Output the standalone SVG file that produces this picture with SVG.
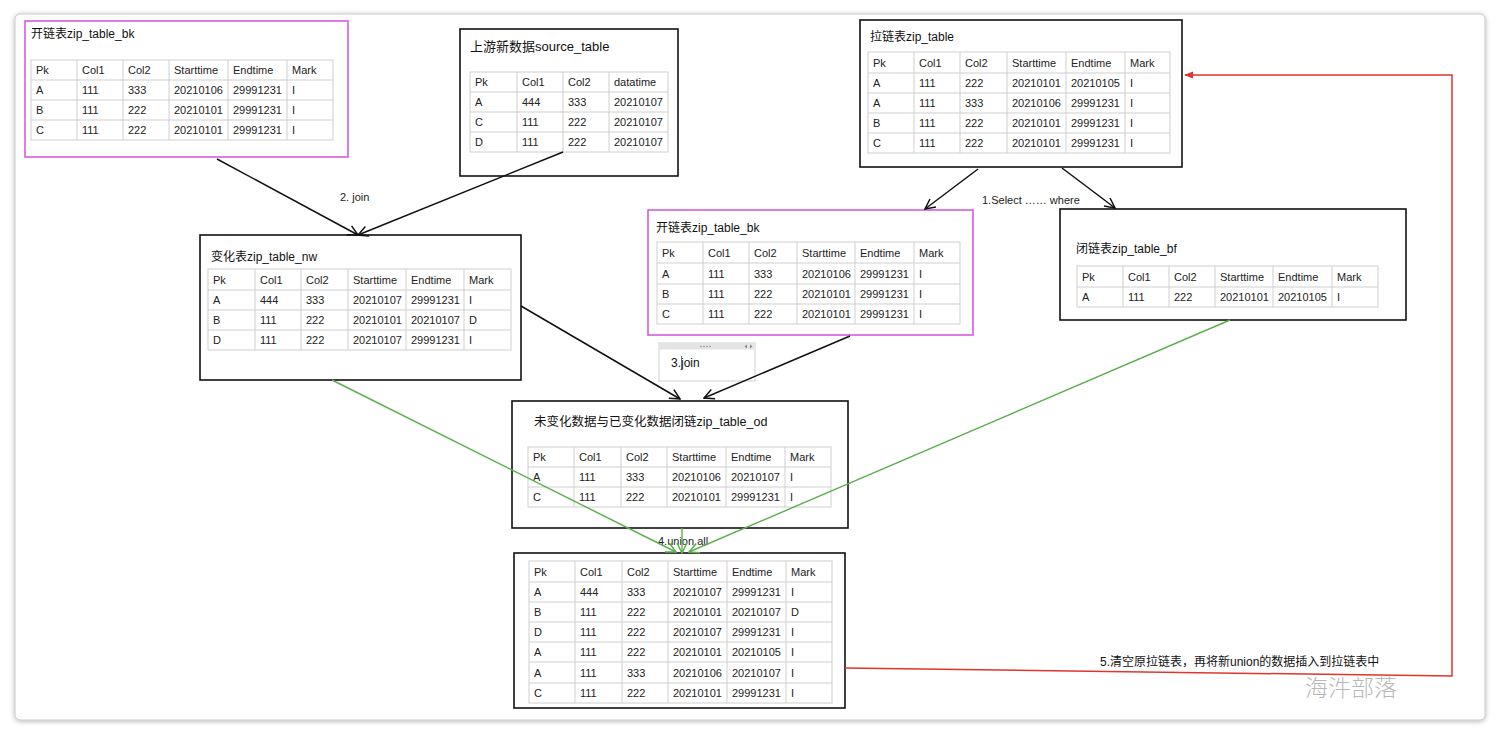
<svg xmlns="http://www.w3.org/2000/svg" width="1500" height="736" viewBox="0 0 1500 736">
<defs>
<style>
.t{font-family:"Liberation Sans","Noto Sans CJK SC",sans-serif;font-size:11px;fill:#222}
.ti{font-family:"Liberation Sans","Noto Sans CJK SC",sans-serif;font-size:12px;fill:#111}
.tb{fill:#fff;stroke:#cfcfcf;stroke-width:1}
.g{stroke:#cfcfcf;stroke-width:1;fill:none}
.box{fill:#fff;stroke:#111;stroke-width:1.6}
.mbox{fill:#fff;stroke:#d65ce0;stroke-width:1.6}
.bl{stroke:#111;stroke-width:1.5;fill:none}
.gr{stroke:#5aae4c;stroke-width:1.4;fill:none}
.rd{stroke:#e0352b;stroke-width:1.5;fill:none}
</style>
<marker id="ab" viewBox="0 0 12 12" refX="11" refY="6" markerWidth="12" markerHeight="12" markerUnits="userSpaceOnUse" orient="auto"><path d="M1,1 L11,6 L1,11" fill="none" stroke="#111" stroke-width="1.5"/></marker>
<marker id="ag" viewBox="0 0 12 12" refX="11" refY="6" markerWidth="12" markerHeight="12" markerUnits="userSpaceOnUse" orient="auto"><path d="M1,1 L11,6 L1,11" fill="none" stroke="#5aae4c" stroke-width="1.5"/></marker>
<marker id="ar" viewBox="0 0 10 10" refX="9" refY="5" markerWidth="9" markerHeight="9" markerUnits="userSpaceOnUse" orient="auto"><path d="M0,1 L10,5 L0,9 Z" fill="#e0352b"/></marker>
<filter id="sh" x="-5%" y="-5%" width="110%" height="110%"><feDropShadow dx="0" dy="1" stdDeviation="2.5" flood-color="#000" flood-opacity="0.3"/></filter>
</defs>
<rect width="1500" height="736" fill="#fff"/>
<rect x="15" y="14" width="1470" height="706" rx="5" fill="#fff" stroke="#c8c8c8" stroke-width="1" filter="url(#sh)"/>

<!-- node: top-left bk -->
<g id="node-bk-top">
<rect class="mbox" x="25" y="21" width="323" height="136"/>
<text class="ti" x="31" y="38">开链表zip_table_bk</text>
<rect class="tb" x="31" y="60" width="302" height="80"/>
<path class="g" d="M31,80H333M31,100H333M31,120H333M77,60V140M123,60V140M169,60V140M228,60V140M287,60V140"/>
<g class="t">
<text x="36" y="74">Pk</text><text x="82" y="74">Col1</text><text x="128" y="74">Col2</text><text x="174" y="74">Starttime</text><text x="233" y="74">Endtime</text><text x="292" y="74">Mark</text>
<text x="36" y="94">A</text><text x="82" y="94">111</text><text x="128" y="94">333</text><text x="174" y="94">20210106</text><text x="233" y="94">29991231</text><text x="292" y="94">I</text>
<text x="36" y="114">B</text><text x="82" y="114">111</text><text x="128" y="114">222</text><text x="174" y="114">20210101</text><text x="233" y="114">29991231</text><text x="292" y="114">I</text>
<text x="36" y="134">C</text><text x="82" y="134">111</text><text x="128" y="134">222</text><text x="174" y="134">20210101</text><text x="233" y="134">29991231</text><text x="292" y="134">I</text>
</g>
</g>

<!-- node: source table -->
<g id="node-source">
<rect class="box" x="460" y="29" width="218" height="147"/>
<text class="ti" x="470" y="51" style="font-size:13px">上游新数据source_table</text>
<rect class="tb" x="470" y="72" width="198" height="80"/>
<path class="g" d="M470,92H668M470,112H668M470,132H668M517,72V152M563,72V152M609,72V152"/>
<g class="t">
<text x="475" y="86">Pk</text><text x="522" y="86">Col1</text><text x="568" y="86">Col2</text><text x="614" y="86">datatime</text>
<text x="475" y="106">A</text><text x="522" y="106">444</text><text x="568" y="106">333</text><text x="614" y="106">20210107</text>
<text x="475" y="126">C</text><text x="522" y="126">111</text><text x="568" y="126">222</text><text x="614" y="126">20210107</text>
<text x="475" y="146">D</text><text x="522" y="146">111</text><text x="568" y="146">222</text><text x="614" y="146">20210107</text>
</g>
</g>

<!-- node: zip_table -->
<g id="node-zip">
<rect class="box" x="860" y="20" width="322" height="147"/>
<text class="ti" x="870" y="41">拉链表zip_table</text>
<rect class="tb" x="868" y="52" width="302" height="101"/>
<path class="g" d="M868,73H1170M868,93H1170M868,113H1170M868,133H1170M914,52V153M960,52V153M1007,52V153M1066,52V153M1125,52V153"/>
<g class="t">
<text x="873" y="67">Pk</text><text x="919" y="67">Col1</text><text x="965" y="67">Col2</text><text x="1012" y="67">Starttime</text><text x="1071" y="67">Endtime</text><text x="1130" y="67">Mark</text>
<text x="873" y="87">A</text><text x="919" y="87">111</text><text x="965" y="87">222</text><text x="1012" y="87">20210101</text><text x="1071" y="87">20210105</text><text x="1130" y="87">I</text>
<text x="873" y="107">A</text><text x="919" y="107">111</text><text x="965" y="107">333</text><text x="1012" y="107">20210106</text><text x="1071" y="107">29991231</text><text x="1130" y="107">I</text>
<text x="873" y="127">B</text><text x="919" y="127">111</text><text x="965" y="127">222</text><text x="1012" y="127">20210101</text><text x="1071" y="127">29991231</text><text x="1130" y="127">I</text>
<text x="873" y="147">C</text><text x="919" y="147">111</text><text x="965" y="147">222</text><text x="1012" y="147">20210101</text><text x="1071" y="147">29991231</text><text x="1130" y="147">I</text>
</g>
</g>

<!-- node: middle bk -->
<g id="node-bk-mid">
<rect class="mbox" x="648" y="210" width="325" height="125"/>
<text class="ti" x="656" y="232">开链表zip_table_bk</text>
<rect class="tb" x="657" y="242" width="303" height="82"/>
<path class="g" d="M657,263H960M657,284H960M657,304H960M703,242V324M749,242V324M797,242V324M855,242V324M914,242V324"/>
<g class="t">
<text x="662" y="257">Pk</text><text x="708" y="257">Col1</text><text x="754" y="257">Col2</text><text x="802" y="257">Starttime</text><text x="860" y="257">Endtime</text><text x="919" y="257">Mark</text>
<text x="662" y="278">A</text><text x="708" y="278">111</text><text x="754" y="278">333</text><text x="802" y="278">20210106</text><text x="860" y="278">29991231</text><text x="919" y="278">I</text>
<text x="662" y="298">B</text><text x="708" y="298">111</text><text x="754" y="298">222</text><text x="802" y="298">20210101</text><text x="860" y="298">29991231</text><text x="919" y="298">I</text>
<text x="662" y="318">C</text><text x="708" y="318">111</text><text x="754" y="318">222</text><text x="802" y="318">20210101</text><text x="860" y="318">29991231</text><text x="919" y="318">I</text>
</g>
</g>

<!-- node: bf -->
<g id="node-bf">
<rect class="box" x="1060" y="209" width="346" height="111"/>
<text class="ti" x="1076" y="253">闭链表zip_table_bf</text>
<rect class="tb" x="1077" y="266" width="301" height="41"/>
<path class="g" d="M1077,287H1378M1123,266V307M1169,266V307M1215,266V307M1273,266V307M1332,266V307"/>
<g class="t">
<text x="1082" y="281">Pk</text><text x="1128" y="281">Col1</text><text x="1174" y="281">Col2</text><text x="1220" y="281">Starttime</text><text x="1278" y="281">Endtime</text><text x="1337" y="281">Mark</text>
<text x="1082" y="301">A</text><text x="1128" y="301">111</text><text x="1174" y="301">222</text><text x="1220" y="301">20210101</text><text x="1278" y="301">20210105</text><text x="1337" y="301">I</text>
</g>
</g>

<!-- node: nw -->
<g id="node-nw">
<rect class="box" x="200" y="235" width="321" height="145"/>
<text class="ti" x="211" y="261">变化表zip_table_nw</text>
<rect class="tb" x="208" y="269" width="303" height="81"/>
<path class="g" d="M208,290H511M208,310H511M208,330H511M255,269V350M301,269V350M348,269V350M406,269V350M464,269V350"/>
<g class="t">
<text x="213" y="284">Pk</text><text x="260" y="284">Col1</text><text x="306" y="284">Col2</text><text x="353" y="284">Starttime</text><text x="411" y="284">Endtime</text><text x="469" y="284">Mark</text>
<text x="213" y="304">A</text><text x="260" y="304">444</text><text x="306" y="304">333</text><text x="353" y="304">20210107</text><text x="411" y="304">29991231</text><text x="469" y="304">I</text>
<text x="213" y="324">B</text><text x="260" y="324">111</text><text x="306" y="324">222</text><text x="353" y="324">20210101</text><text x="411" y="324">20210107</text><text x="469" y="324">D</text>
<text x="213" y="344">D</text><text x="260" y="344">111</text><text x="306" y="344">222</text><text x="353" y="344">20210107</text><text x="411" y="344">29991231</text><text x="469" y="344">I</text>
</g>
</g>

<!-- node: od -->
<g id="node-od">
<rect class="box" x="512" y="401" width="336" height="127"/>
<text class="ti" x="534" y="426" style="font-size:12.5px">未变化数据与已变化数据闭链zip_table_od</text>
<rect class="tb" x="528" y="447" width="303" height="60"/>
<path class="g" d="M528,467H831M528,487H831M574,447V507M621,447V507M667,447V507M726,447V507M785,447V507"/>
<g class="t">
<text x="533" y="461">Pk</text><text x="579" y="461">Col1</text><text x="626" y="461">Col2</text><text x="672" y="461">Starttime</text><text x="731" y="461">Endtime</text><text x="790" y="461">Mark</text>
<text x="533" y="481">A</text><text x="579" y="481">111</text><text x="626" y="481">333</text><text x="672" y="481">20210106</text><text x="731" y="481">20210107</text><text x="790" y="481">I</text>
<text x="533" y="501">C</text><text x="579" y="501">111</text><text x="626" y="501">222</text><text x="672" y="501">20210101</text><text x="731" y="501">29991231</text><text x="790" y="501">I</text>
</g>
</g>

<!-- node: union result -->
<g id="node-union">
<rect class="box" x="514" y="553" width="331" height="155"/>
<rect class="tb" x="529" y="561" width="303" height="142"/>
<path class="g" d="M529,582H832M529,602H832M529,622H832M529,642H832M529,662H832M529,683H832M575,561V703M622,561V703M668,561V703M727,561V703M786,561V703"/>
<g class="t">
<text x="534" y="576">Pk</text><text x="580" y="576">Col1</text><text x="627" y="576">Col2</text><text x="673" y="576">Starttime</text><text x="732" y="576">Endtime</text><text x="791" y="576">Mark</text>
<text x="534" y="596">A</text><text x="580" y="596">444</text><text x="627" y="596">333</text><text x="673" y="596">20210107</text><text x="732" y="596">29991231</text><text x="791" y="596">I</text>
<text x="534" y="616">B</text><text x="580" y="616">111</text><text x="627" y="616">222</text><text x="673" y="616">20210101</text><text x="732" y="616">20210107</text><text x="791" y="616">D</text>
<text x="534" y="636">D</text><text x="580" y="636">111</text><text x="627" y="636">222</text><text x="673" y="636">20210107</text><text x="732" y="636">29991231</text><text x="791" y="636">I</text>
<text x="534" y="656">A</text><text x="580" y="656">111</text><text x="627" y="656">222</text><text x="673" y="656">20210101</text><text x="732" y="656">20210105</text><text x="791" y="656">I</text>
<text x="534" y="677">A</text><text x="580" y="677">111</text><text x="627" y="677">333</text><text x="673" y="677">20210106</text><text x="732" y="677">20210107</text><text x="791" y="677">I</text>
<text x="534" y="697">C</text><text x="580" y="697">111</text><text x="627" y="697">222</text><text x="673" y="697">20210101</text><text x="732" y="697">29991231</text><text x="791" y="697">I</text>
</g>
</g>

<!-- node: 3.join label box -->
<g id="node-join3">
<rect x="659" y="343" width="96" height="38" fill="#fff" stroke="#d0d0d0" stroke-width="1"/>
<rect x="659.5" y="343.5" width="95" height="6" fill="#e4e4e4"/>
<g fill="#888"><circle cx="701" cy="346.5" r="0.8"/><circle cx="704" cy="346.5" r="0.8"/><circle cx="707" cy="346.5" r="0.8"/><circle cx="710" cy="346.5" r="0.8"/>
<path d="M747,344.5L744.5,346.5L747,348.5Z"/><path d="M750,344.5L752.5,346.5L750,348.5Z"/></g>
<text class="ti" x="671" y="367">3.join</text>
<line x1="681.5" y1="356" x2="681.5" y2="369" stroke="#555" stroke-width="0.8"/>
</g>

<!-- connectors -->
<g id="connectors">
<line class="bl" x1="217" y1="159" x2="358" y2="235" marker-end="url(#ab)"/>
<line class="bl" x1="563" y1="152" x2="358" y2="235" marker-end="url(#ab)"/>
<line class="bl" x1="978" y1="169" x2="925" y2="209" marker-end="url(#ab)"/>
<line class="bl" x1="1062" y1="168" x2="1115" y2="208" marker-end="url(#ab)"/>
<line class="bl" x1="521" y1="306" x2="680" y2="399" marker-end="url(#ab)"/>
<line class="bl" x1="850" y1="336" x2="704" y2="398" marker-end="url(#ab)"/>
<text class="t" x="340" y="201">2. join</text>
<text class="t" x="982" y="204">1.Select …… where</text>
<text class="t" x="658" y="545">4.union all</text>
<line class="gr" x1="332" y1="380" x2="676" y2="552" marker-end="url(#ag)"/>
<line class="gr" x1="682" y1="528" x2="682" y2="553" marker-end="url(#ag)"/>
<line class="gr" x1="1230" y1="320" x2="689" y2="552" marker-end="url(#ag)"/>
<polyline class="rd" points="845,668 1452,676 1452,75 1185,75" marker-end="url(#ar)"/>
<text class="ti" x="1100" y="666">5.清空原拉链表，再将新union的数据插入到拉链表中</text>
</g>

<text x="1305" y="696" style="font-family:'Noto Sans CJK SC',sans-serif;font-size:23px;font-weight:300;fill:#b8b8b8">海汼部落</text>
</svg>
